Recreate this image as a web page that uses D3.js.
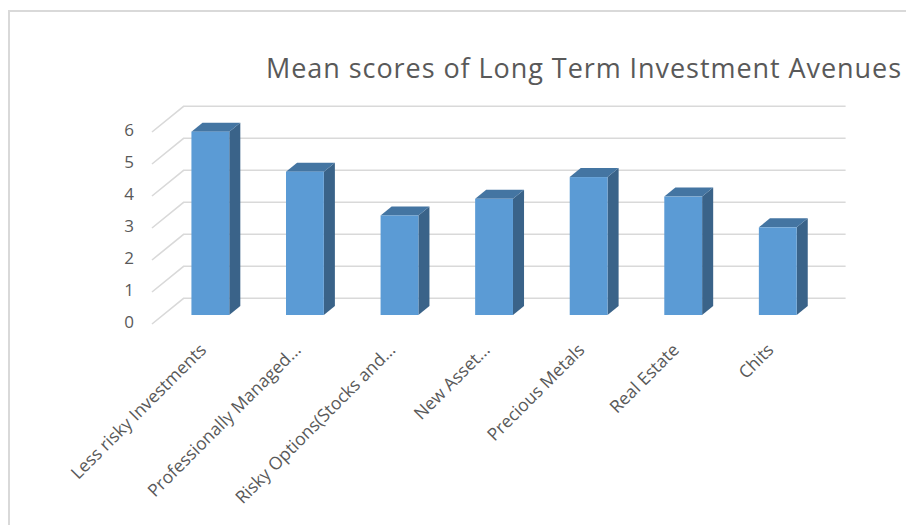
<!DOCTYPE html>
<html>
<head>
<meta charset="utf-8">
<script src="https://cdn.jsdelivr.net/npm/d3@7"></script>
<style>
body { margin: 0; background: #fff; }
svg { display: block; }
</style>
</head>
<body>
<script>
// values
var categories = ["Less risky Investments", "Professionally Managed...", "Risky Options(Stocks and...",
	"New Asset...", "Precious Metals", "Real Estate", "Chits"];
var scores = [5.73, 4.48, 3.11, 3.63, 4.31, 3.70, 2.74];
var yTicks = [0, 1, 2, 3, 4, 5, 6];
var title = "Mean scores of Long Term Investment Avenues";

var W = 906, H = 525;
var font = "'Open Sans', 'Noto Sans', sans-serif";
var depth = {dx: 31.6, dy: -25.7}; // floor depth offset (front -> back wall)
var z0 = 0.35, z1 = 0.70;          // bars sit between these depth fractions

var svg = d3.select("body").append("svg")
	.attr("width", W).attr("height", H);

// chart frame (only left and top edges are visible)
svg.append("rect")
	.attr("x", 9).attr("y", 11)
	.attr("width", W + 20).attr("height", H + 20)
	.attr("fill", "none").attr("stroke", "#d9d9d9").attr("stroke-width", 2);

var x = d3.scaleBand().domain(categories).range([152, 814])
	.paddingInner(0.6).paddingOuter(0.3);
var y = d3.scaleLinear().domain([0, 6]).range([324, 132]);

// gridlines: side wall diagonal + back wall horizontal
var grid = svg.append("g").attr("class", "grid")
	.attr("stroke", "#d9d9d9").attr("stroke-width", 1.6).attr("fill", "none");
grid.selectAll("path").data(yTicks).enter().append("path")
	.attr("d", function(v) {
		var x0 = x.range()[0], yv = y(v);
		return "M" + x0 + "," + yv +
			"L" + (x0 + depth.dx) + "," + (yv + depth.dy) +
			"L" + (x.range()[1] + depth.dx) + "," + (yv + depth.dy);
	});

// y labels
svg.append("g").selectAll("text").data(yTicks).enter().append("text")
	.attr("x", 134).attr("y", function(v) { return y(v) - 1; })
	.attr("text-anchor", "end").attr("dominant-baseline", "middle")
	.attr("font-family", font).attr("font-size", 17).attr("fill", "#595959")
	.text(function(v) { return v; });

// 3d bars
var dz = z1 - z0;
var bars = svg.append("g").selectAll("g").data(categories).enter().append("g");
bars.each(function(c, i) {
	var g = d3.select(this);
	var bx = x(c) + z0 * depth.dx, bw = x.bandwidth();
	var yb = y(0) + z0 * depth.dy, yt = y(scores[i]) + z0 * depth.dy;
	var ox = dz * depth.dx, oy = dz * depth.dy;
	// side
	g.append("path").attr("fill", "#3a6389")
		.attr("d", "M" + (bx + bw) + "," + yb + "L" + (bx + bw + ox) + "," + (yb + oy) +
			"L" + (bx + bw + ox) + "," + (yt + oy) + "L" + (bx + bw) + "," + yt + "Z");
	// top
	g.append("path").attr("fill", "#4475a2")
		.attr("d", "M" + bx + "," + yt + "L" + (bx + bw) + "," + yt +
			"L" + (bx + bw + ox) + "," + (yt + oy) + "L" + (bx + ox) + "," + (yt + oy) + "Z");
	// front
	g.append("rect").attr("fill", "#5b9bd5")
		.attr("x", bx).attr("y", yt).attr("width", bw).attr("height", yb - yt);
});

// category labels
svg.append("g").selectAll("text").data(categories).enter().append("text")
	.attr("transform", function(c) {
		return "translate(" + (x(c) + x.bandwidth() / 2 + z0 * depth.dx - 3) + ",351) rotate(-45)";
	})
	.attr("text-anchor", "end")
	.attr("font-family", font).attr("font-size", 17.5).attr("fill", "#595959")
	.text(function(c) { return c; });

// title
svg.append("text").attr("x", 266).attr("y", 78)
	.attr("font-family", font).attr("font-size", 27).attr("fill", "#595959")
	.attr("textLength", 635).attr("lengthAdjust", "spacing")
	.text(title);
</script>
</body>
</html>
